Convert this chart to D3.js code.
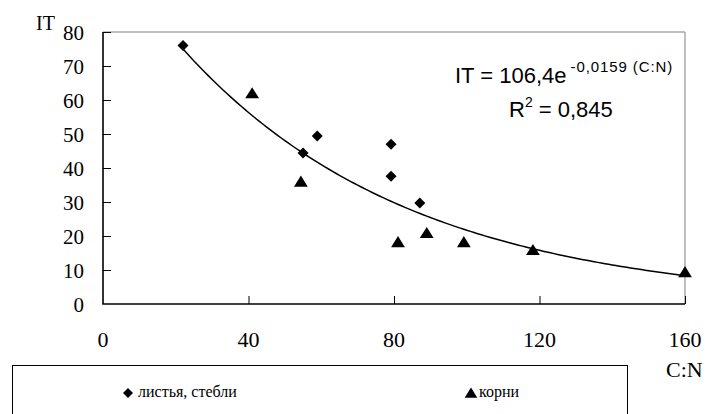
<!DOCTYPE html>
<html>
<head>
<meta charset="utf-8">
<script src="https://cdn.jsdelivr.net/npm/d3@7"></script>
<style>
  body { margin: 0; background: #fff; }
  svg { display: block; }
</style>
</head>
<body>
<svg id="chart" width="707" height="414"></svg>
<script>
// листья, стебли
const leafX = [22, 55, 58.9, 79.2, 79.2, 87.1];
const leafY = [76, 44.4, 49.4, 47, 37.6, 29.7];
// корни
const rootX = [41, 54.4, 81.1, 89, 99.2, 118.2, 160];
const rootY = [62, 36, 18.2, 20.9, 18.2, 15.9, 9.4];
// trend: IT = a * e^(b * C:N)
const trendA = 106.4, trendB = -0.0159;
const trendFrom = 22, trendTo = 160;
const xTicks = [0, 40, 80, 120, 160];
const yTicks = [0, 10, 20, 30, 40, 50, 60, 70, 80];
const legendNames = ["листья, стебли", "корни"];

const SERIF = "'Liberation Serif', 'Times New Roman', Times, 'DejaVu Serif', serif";
const SANS = "'Liberation Sans', Arial, Helvetica, sans-serif";

const svg = d3.select("#chart");
const L = 103, R = 685, T = 32, B = 304;
const x = d3.scaleLinear().domain([0, 160]).range([L, R]);
const y = d3.scaleLinear().domain([0, 80]).range([B, T]);

// frame top/right
svg.append("path")
  .attr("d", `M${L},${T}H${R}V${B}`)
  .attr("fill", "none").attr("stroke", "#808080").attr("stroke-width", 1);

// y axis, ticks inside
const gy = svg.append("g").attr("transform", `translate(${L},0)`)
  .call(d3.axisRight(y).tickValues(yTicks).tickSize(8).tickFormat(""));
gy.select(".domain").remove();
gy.selectAll(".tick line").attr("stroke", "#000").attr("stroke-width", 1);
gy.selectAll(".tick").filter(d => d === 0).remove();
svg.append("g").selectAll("text").data(yTicks).join("text")
  .attr("font-family", SERIF).attr("x", 84).attr("y", d => y(d) + 8)
  .attr("text-anchor", "end").attr("font-size", 21).text(d => d);

// x axis, ticks inside
const gx = svg.append("g").attr("transform", `translate(0,${B})`)
  .call(d3.axisTop(x).tickValues(xTicks).tickSize(8).tickFormat(""));
gx.select(".domain").remove();
gx.selectAll(".tick line").attr("stroke", "#000").attr("stroke-width", 1);
gx.selectAll(".tick").filter(d => d === 0).remove();
svg.append("g").selectAll("text").data(xTicks).join("text")
  .attr("font-family", SERIF).attr("x", d => x(d)).attr("y", 347)
  .attr("text-anchor", "middle").attr("font-size", 22).text(d => d);

// main axis lines
svg.append("path").attr("d", `M${L},${T}V${B}H${R}`)
  .attr("fill", "none").attr("stroke", "#000").attr("stroke-width", 1.6);

// axis titles
svg.append("text").attr("font-family", SERIF).attr("x", 36).attr("y", 30)
  .attr("font-size", 20).text("IT");
svg.append("text").attr("font-family", SERIF).attr("x", 666).attr("y", 377)
  .attr("font-size", 22).text("C:N");

// trend line
const trendPts = d3.range(trendFrom, trendTo + 0.5, 1).map(v => [v, trendA * Math.exp(trendB * v)]);
svg.append("path").datum(trendPts)
  .attr("d", d3.line().x(d => x(d[0])).y(d => y(d[1])))
  .attr("fill", "none").attr("stroke", "#000").attr("stroke-width", 1.5);

const diamond = s => `M0,${-s}L${s},0L0,${s}L${-s},0Z`;
const tri = s => `M0,${-s}L${s * 1.15},${s * 0.85}L${-s * 1.15},${s * 0.85}Z`;

svg.append("g").selectAll("path").data(leafX.map((v, i) => [v, leafY[i]])).join("path")
  .attr("transform", d => `translate(${x(d[0])},${y(d[1])})`)
  .attr("d", diamond(5.5)).attr("fill", "#000");
svg.append("g").selectAll("path").data(rootX.map((v, i) => [v, rootY[i]])).join("path")
  .attr("transform", d => `translate(${x(d[0])},${y(d[1])})`)
  .attr("d", tri(6)).attr("fill", "#000");

// equation
const eq = svg.append("text").attr("font-family", SANS).attr("x", 455).attr("y", 83).attr("font-size", 22);
eq.append("tspan").text("IT = 106,4e");
eq.append("tspan").attr("dx", 4).attr("dy", -11).attr("font-size", 15)
  .attr("letter-spacing", 0.9).text("-0,0159 (C:N)");
const r2 = svg.append("text").attr("font-family", SANS).attr("x", 509).attr("y", 117).attr("font-size", 22);
r2.append("tspan").text("R");
r2.append("tspan").attr("dy", -10).attr("font-size", 14).text("2");
r2.append("tspan").attr("dy", 10).text(" = 0,845");

// legend
svg.append("rect").attr("x", 12.5).attr("y", 365.5).attr("width", 615).attr("height", 60)
  .attr("fill", "#fff").attr("stroke", "#000").attr("stroke-width", 1);
const legX = [128, 471];
legendNames.forEach((name, i) => {
  const g = svg.append("g").attr("transform", `translate(${legX[i]},393)`);
  g.append("path").attr("d", i === 0 ? diamond(5) : tri(5.5)).attr("fill", "#000");
  g.append("text").attr("font-family", SERIF).attr("x", i === 0 ? 10 : 8).attr("y", 4).attr("font-size", 16).text(name);
});
</script>
</body>
</html>
